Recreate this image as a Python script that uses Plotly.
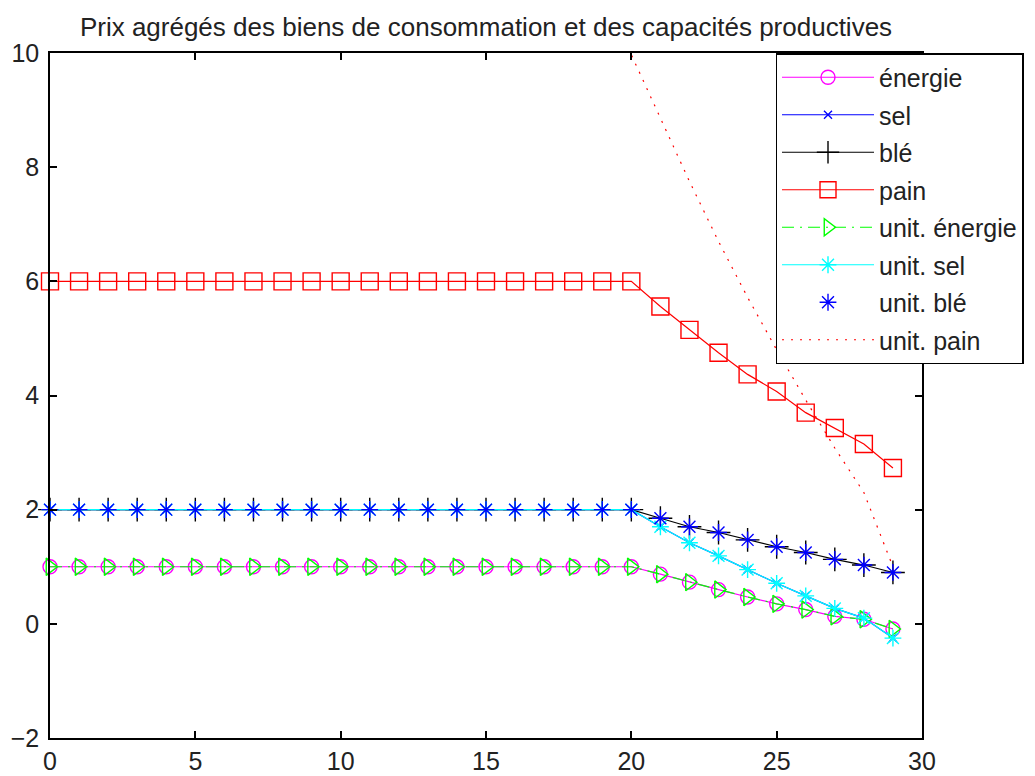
import plotly.graph_objects as go

# periods
periods = list(range(30))

# aggregated prices
energie = [1.0, 1.0, 1.0, 1.0, 1.0, 1.0, 1.0, 1.0, 1.0, 1.0,
           1.0, 1.0, 1.0, 1.0, 1.0, 1.0, 1.0, 1.0, 1.0, 1.0,
           1.0, 0.87, 0.73, 0.60, 0.47, 0.35, 0.25, 0.13, 0.08, -0.09]
sel = [2.0, 2.0, 2.0, 2.0, 2.0, 2.0, 2.0, 2.0, 2.0, 2.0,
       2.0, 2.0, 2.0, 2.0, 2.0, 2.0, 2.0, 2.0, 2.0, 2.0,
       2.0, 1.70, 1.42, 1.19, 0.95, 0.71, 0.49, 0.27, 0.10, -0.25]
ble = [2.0, 2.0, 2.0, 2.0, 2.0, 2.0, 2.0, 2.0, 2.0, 2.0,
       2.0, 2.0, 2.0, 2.0, 2.0, 2.0, 2.0, 2.0, 2.0, 2.0,
       2.0, 1.85, 1.70, 1.60, 1.47, 1.35, 1.25, 1.13, 1.03, 0.90]
pain = [6.0, 6.0, 6.0, 6.0, 6.0, 6.0, 6.0, 6.0, 6.0, 6.0,
        6.0, 6.0, 6.0, 6.0, 6.0, 6.0, 6.0, 6.0, 6.0, 6.0,
        6.0, 5.56, 5.15, 4.75, 4.37, 4.07, 3.70, 3.43, 3.15, 2.73]

# unit prices of productive capacities
unit_energie = [1.0, 1.0, 1.0, 1.0, 1.0, 1.0, 1.0, 1.0, 1.0, 1.0,
                1.0, 1.0, 1.0, 1.0, 1.0, 1.0, 1.0, 1.0, 1.0, 1.0,
                1.0, 0.87, 0.73, 0.60, 0.47, 0.35, 0.25, 0.13, 0.08, -0.09]
unit_sel = [2.0, 2.0, 2.0, 2.0, 2.0, 2.0, 2.0, 2.0, 2.0, 2.0,
            2.0, 2.0, 2.0, 2.0, 2.0, 2.0, 2.0, 2.0, 2.0, 2.0,
            2.0, 1.70, 1.42, 1.19, 0.95, 0.71, 0.49, 0.27, 0.10, -0.25]
unit_ble = [2.0, 2.0, 2.0, 2.0, 2.0, 2.0, 2.0, 2.0, 2.0, 2.0,
            2.0, 2.0, 2.0, 2.0, 2.0, 2.0, 2.0, 2.0, 2.0, 2.0,
            2.0, 1.85, 1.70, 1.60, 1.47, 1.35, 1.25, 1.13, 1.03, 0.90]
unit_pain = [10.2, 10.2, 10.2, 10.2, 10.2, 10.2, 10.2, 10.2, 10.2, 10.2,
             10.2, 10.2, 10.2, 10.2, 10.2, 10.2, 10.2, 10.2, 10.2, 10.2,
             9.97, 8.85, 7.75, 6.70, 5.72, 4.80, 3.92, 3.08, 2.30, 1.00]

FONT = "Liberation Sans"

fig = go.Figure()


def add(name, y, color, symbol=None, size=12, dash="solid", mode="lines+markers", clip=False):
    marker = dict(color=color, size=size, symbol=symbol,
                  line=dict(color=color, width=1.4)) if symbol else None
    fig.add_trace(go.Scatter(
        x=periods, y=y, name=name, mode=mode if symbol else "lines",
        line=dict(color=color, width=1.2, dash=dash),
        marker=marker, cliponaxis=clip, legendgroup=name,
    ))


add("énergie", energie, "#ff00ff", "circle-open", 14)
add("sel", sel, "#0000ff", "x-thin-open", 8)
add("blé", ble, "#000000", "cross-thin-open", 17)
add("pain", pain, "#ff0000", "square-open", 17)
add("unit. énergie", unit_energie, "#00ff00", "triangle-right-open", 15, dash="12px,6px,2px,6px")
add("unit. sel", unit_sel, "#00ffff", "asterisk-open", 14)
add("unit. blé", unit_ble, "#0000ff", "asterisk-open", 14, mode="markers")
add("unit. pain", unit_pain, "#ff0000", dash="2px,7px", clip=True)

axis_style = dict(
    showline=True, linecolor="black", linewidth=1.5, mirror="ticks",
    ticks="inside", ticklen=7, tickcolor="black", tickwidth=1.5,
    showgrid=False, zeroline=False, automargin=False,
    tickfont=dict(family=FONT, size=25, color="#222222"),
)

# page body has an 8px margin, so the figure is offset by 8px
fig.update_layout(
    width=1027, height=768,
    paper_bgcolor="white", plot_bgcolor="white",
    margin=dict(l=42, r=113, t=45, b=38, autoexpand=False),
    title=dict(text="Prix agrégés des biens de consommation et des capacités productives",
               font=dict(family=FONT, size=26, color="#222222"),
               x=0.5, xref="paper", xanchor="center", y=0.975, yanchor="middle"),
    xaxis=dict(range=[0, 30], tickvals=[0, 5, 10, 15, 20, 25, 30], ticklabelstandoff=0, **axis_style),
    yaxis=dict(range=[-2, 10], tickvals=[-2, 0, 2, 4, 6, 8, 10], ticklabelstandoff=4, **axis_style),
    legend=dict(x=0.832, y=1, xanchor="left", yanchor="top",
                bgcolor="white", bordercolor="black", borderwidth=1.5,
                font=dict(family=FONT, size=25, color="#222222"),
                itemwidth=92, tracegroupgap=2),
    showlegend=True,
)

fig.write_html("out.html")
